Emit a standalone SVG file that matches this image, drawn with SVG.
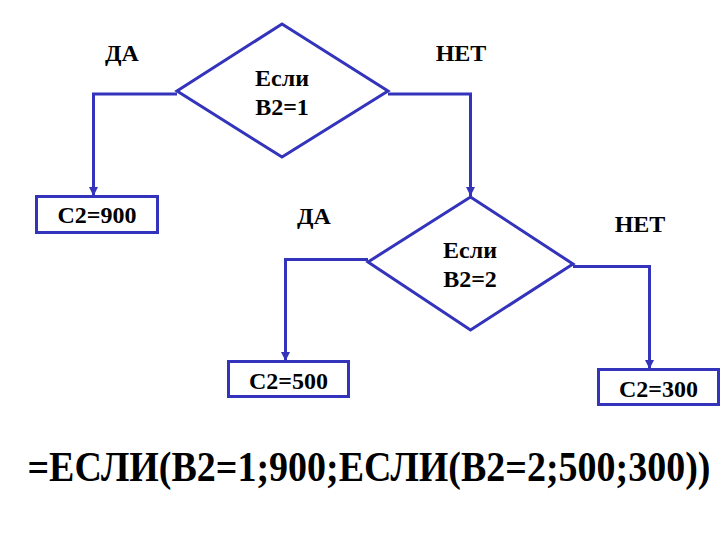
<svg xmlns="http://www.w3.org/2000/svg" width="720" height="540" viewBox="0 0 720 540">
<defs>
<marker id="arr" viewBox="0 0 10 10" refX="10" refY="5" markerWidth="3" markerHeight="3" orient="auto" markerUnits="strokeWidth">
<path d="M0,0 L10,5 L0,10 Z" fill="#3333bb"/>
</marker>
<style>
.shape{fill:none;stroke:#3333bb;stroke-width:3;}
.conn{fill:none;stroke:#3333bb;stroke-width:3;}
.t{font-weight:bold;fill:#000;text-anchor:middle;}
.lbl{font-size:24px;}
.node{font-size:24px;}
.formula{font-size:38px;}
</style>
</defs>
<rect width="720" height="540" fill="#fff"/>
<g id="connectors">
<polyline class="conn" points="177,94 93.5,94 93.5,196" marker-end="url(#arr)"/>
<polyline class="conn" points="388,94 470.5,94 470.5,196" marker-end="url(#arr)"/>
<polyline class="conn" points="368,259.5 285.5,259.5 285.5,361" marker-end="url(#arr)"/>
<polyline class="conn" points="573,266.5 649.5,266.5 649.5,369" marker-end="url(#arr)"/>
</g>
<g id="labels" font-family="'Liberation Serif', 'DejaVu Serif', serif">
<text class="t lbl" x="122" y="61">ДА</text>
<text class="t lbl" x="461" y="61">НЕТ</text>
<text class="t lbl" x="314" y="224">ДА</text>
<text class="t lbl" x="640" y="232">НЕТ</text>
</g>
<g id="cond1" font-family="'Liberation Serif', 'DejaVu Serif', serif">
<polygon class="shape" points="282,24 388,91 282,157 177,91"/>
<text class="t node" x="282" y="86">Если</text>
<text class="t node" x="282" y="115">B2=1</text>
</g>
<g id="cond2" font-family="'Liberation Serif', 'DejaVu Serif', serif">
<polygon class="shape" points="470.5,197 573,264 470.5,330 368,262"/>
<text class="t node" x="470" y="258">Если</text>
<text class="t node" x="470" y="287">B2=2</text>
</g>
<g id="c900" font-family="'Liberation Serif', 'DejaVu Serif', serif">
<rect class="shape" x="36.5" y="196.5" width="121" height="36"/>
<text class="t node" x="97" y="223">C2=900</text>
</g>
<g id="c500" font-family="'Liberation Serif', 'DejaVu Serif', serif">
<rect class="shape" x="228.5" y="361.5" width="120" height="35"/>
<text class="t node" x="288.5" y="389">C2=500</text>
</g>
<g id="c300" font-family="'Liberation Serif', 'DejaVu Serif', serif">
<rect class="shape" x="598.5" y="369.5" width="120" height="35"/>
<text class="t node" x="658.5" y="397">C2=300</text>
</g>
<g id="formula" font-family="'Liberation Serif', 'DejaVu Serif', serif">
<text class="t formula" transform="translate(369,481) scale(1,1.12)" x="0" y="0">=ЕСЛИ(B2=1;900;ЕСЛИ(B2=2;500;300))</text>
</g>
</svg>
